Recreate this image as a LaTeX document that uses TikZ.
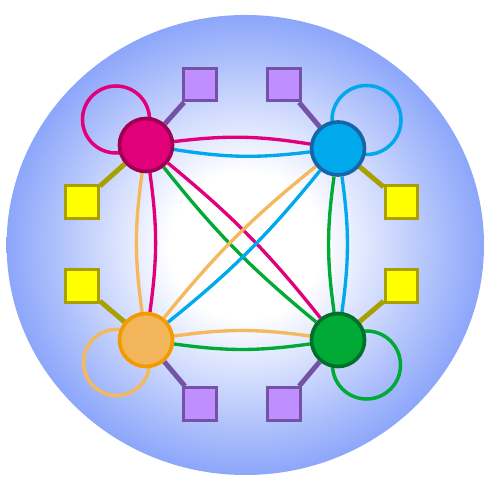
\documentclass[tikz,border=0pt]{standalone}
\usepackage{tikz}
\usetikzlibrary{backgrounds}

\definecolor{magA}{HTML}{E2007A}
\definecolor{magB}{HTML}{9E0052}
\definecolor{cyaA}{HTML}{00A8EC}
\definecolor{cyaB}{HTML}{1565A8}
\definecolor{oraA}{HTML}{F2B55A}
\definecolor{oraB}{HTML}{F29A00}
\definecolor{oraL}{HTML}{F5B85C}
\definecolor{grnA}{HTML}{00AA35}
\definecolor{grnB}{HTML}{00702A}
\definecolor{purA}{HTML}{BF8FFF}
\definecolor{purB}{HTML}{7452A6}
\definecolor{yelA}{HTML}{FFFF00}
\definecolor{yelB}{HTML}{A8A000}
\definecolor{glowblue}{HTML}{8CA6FA}

\pgfdeclareradialshading{glow}{\pgfpoint{0bp}{0bp}}{color(0bp)=(white); color(8bp)=(white); color(25bp)=(glowblue); color(50bp)=(glowblue)}

\begin{document}
\begin{tikzpicture}[
    hub/.style={circle, minimum size=1.06cm, inner sep=0pt, line width=2.1pt},
    port/.style={rectangle, minimum size=0.65cm, inner sep=0pt, line width=1.9pt},
    link/.style={line width=1.9pt},
    tie/.style={line width=2.8pt},
    ring/.style={line width=2pt}]
    \useasboundingbox (-5,-5) rectangle (5,5);

    \node[hub, draw=magB, fill=magA] (m) at (-2.08,2.10) {};
    \node[hub, draw=cyaB, fill=cyaA] (c) at (1.76,2.03) {};
    \node[hub, draw=oraB, fill=oraA] (o) at (-2.08,-1.80) {};
    \node[hub, draw=grnB, fill=grnA] (g) at (1.76,-1.80) {};

    \node[port, draw=purB, fill=purA] (p1) at (-1.0,3.31) {};
    \node[port, draw=purB, fill=purA] (p2) at (0.68,3.31) {};
    \node[port, draw=purB, fill=purA] (p3) at (-1.0,-3.08) {};
    \node[port, draw=purB, fill=purA] (p4) at (0.68,-3.08) {};
    \node[port, draw=yelB, fill=yelA] (y1) at (-3.36,0.96) {};
    \node[port, draw=yelB, fill=yelA] (y2) at (3.03,0.96) {};
    \node[port, draw=yelB, fill=yelA] (y3) at (-3.36,-0.72) {};
    \node[port, draw=yelB, fill=yelA] (y4) at (3.03,-0.72) {};

    \begin{scope}[on background layer]
        \shade[shading=glow] (-0.094,0.1) ellipse (4.774 and 4.6);

        % self loops
        \draw[ring, magA] ([shift={(-0.60,0.51)}]m.center) circle (0.67);
        \draw[ring, cyaA] ([shift={(0.57,0.57)}]c.center) circle (0.69);
        \draw[ring, oraL] ([shift={(-0.59,-0.45)}]o.center) circle (0.66);
        \draw[ring, grnA] ([shift={(0.57,-0.50)}]g.center) circle (0.68);

        % squares
        \draw[tie, purB] (p1) -- (m);
        \draw[tie, yelB] (y1) -- (m);
        \draw[tie, purB] (p2) -- (c);
        \draw[tie, yelB] (y2) -- (c);
        \draw[tie, yelB] (y3) -- (o);
        \draw[tie, purB] (p3) -- (o);
        \draw[tie, yelB] (y4) -- (g);
        \draw[tie, purB] (p4) -- (g);

        % hub to hub
        \draw[link, magA] (m) to[bend left=8] (c);
        \draw[link, cyaA] (c) to[bend left=8] (m);
        \draw[link, magA] (m) to[bend left=8] (o);
        \draw[link, oraL] (o) to[bend left=8] (m);
        \draw[link, cyaA] (c) to[bend left=8] (g);
        \draw[link, grnA] (g) to[bend left=8] (c);
        \draw[link, oraL] (o) to[bend left=8] (g);
        \draw[link, grnA] (g) to[bend left=8] (o);
        \draw[link, magA] (m) to[bend left=6] (g);
        \draw[link, grnA] (g) to[bend left=6] (m);
        \draw[link, oraL] (o) to[bend left=6] (c);
        \draw[link, cyaA] (c) to[bend left=6] (o);
    \end{scope}
\end{tikzpicture}
\end{document}
